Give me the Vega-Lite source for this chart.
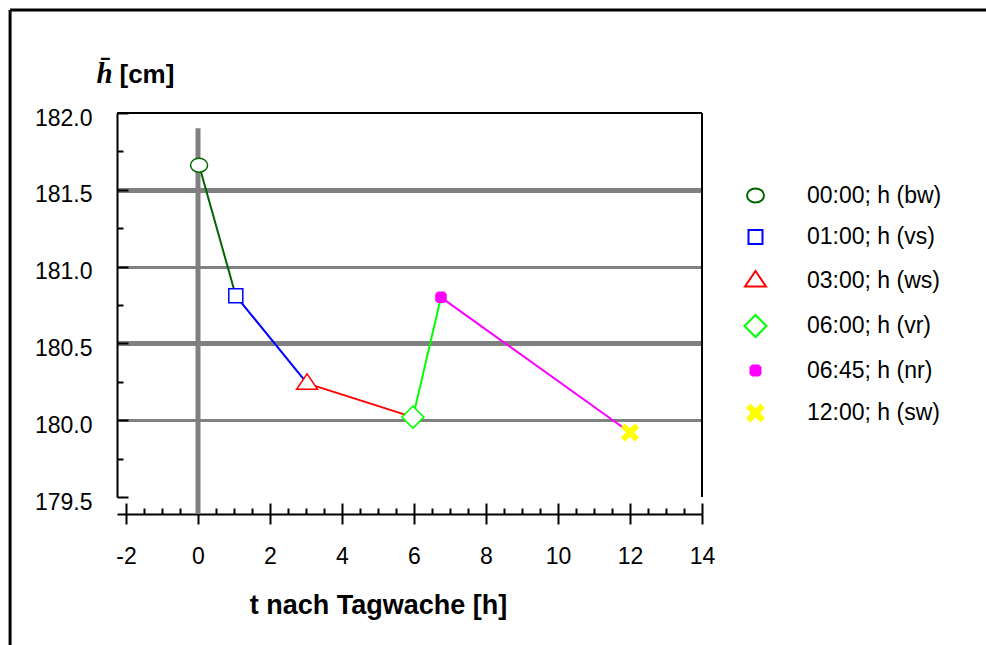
{
  "$schema": "https://vega.github.io/schema/vega-lite/v6.json",
  "width": 585,
  "height": 384,
  "autosize": {"type": "none"},
  "padding": {"left": 117, "top": 113, "right": 284, "bottom": 148},
  "background": "white",
  "config": {
    "view": {"stroke": null},
    "font": "Liberation Sans",
    "axis": {"labelFont": "Liberation Sans", "labelColor": "black", "domainColor": "black", "tickColor": "black", "titleColor": "black", "titleFont": "Liberation Sans"},
    "legend": {"labelFont": "Liberation Sans", "labelColor": "black"}
  },
  "datasets": {
    "pts": [
      {"series": "00:00; h (bw)", "t": 0.03, "h": 181.66},
      {"series": "01:00; h (vs)", "t": 1.05, "h": 180.81},
      {"series": "03:00; h (ws)", "t": 3.03, "h": 180.24},
      {"series": "06:00; h (vr)", "t": 5.97, "h": 180.02},
      {"series": "06:45; h (nr)", "t": 6.75, "h": 180.80},
      {"series": "12:00; h (sw)", "t": 12.0, "h": 179.92}
    ]
  },
  "resolve": {"axis": {"x": "independent", "y": "independent"}},
  "layer": [
    {
      "data": {"values": [{}]},
      "mark": {"type": "rule", "color": "#808080", "strokeWidth": 5, "clip": false},
      "encoding": {
        "x": {"datum": 0, "type": "quantitative", "scale": {"domain": [-2.25, 14], "nice": false, "zero": false},
          "axis": {"orient": "bottom", "offset": 17, "values": [-2, 0, 2, 4, 6, 8, 10, 12, 14], "labelExpr": "datum.value + ''", "tickSize": 10, "tickWidth": 2, "domainWidth": 2, "labelFontSize": 23, "labelPadding": 21, "labelFlush": false, "grid": false,
            "title": "t nach Tagwache [h]", "titleFontSize": 27, "titleFontWeight": "bold", "titleX": 261, "titleY": 99, "titleAlign": "center", "titleBaseline": "alphabetic"}},
        "y": {"datum": 181.9, "type": "quantitative", "scale": {"domain": [179.5, 182], "nice": false, "zero": false},
          "axis": {"orient": "left", "values": [179.5, 180, 180.5, 181, 181.5, 182], "format": ".1f", "ticks": false, "domainWidth": 2, "labelFontSize": 23, "labelPadding": 25, "labelOffset": 5, "labelFlush": false,
            "grid": true, "gridColor": "#808080",
            "gridWidth": {"condition": {"test": "datum.value == 181.5 || datum.value == 180.5", "value": 5}, "value": 3},
            "gridOpacity": {"condition": {"test": "datum.value == 182 || datum.value == 179.5", "value": 0}, "value": 1},
            "title": "h̄", "titleAngle": 0, "titleX": -21, "titleY": -31, "titleAlign": "left", "titleBaseline": "alphabetic", "titleFont": "Liberation Serif", "titleFontStyle": "italic", "titleFontWeight": "bold", "titleFontSize": 29}},
        "y2": {"datum": 179.39}
      }
    },
    {
      "data": {"values": [{}]},
      "mark": {"type": "rule", "color": "black", "strokeWidth": 2, "clip": false},
      "encoding": {"y": {"datum": 182, "type": "quantitative", "axis": null}}
    },
    {
      "data": {"values": [{}]},
      "mark": {"type": "rule", "color": "black", "strokeWidth": 2, "clip": false},
      "encoding": {"x": {"datum": 14, "type": "quantitative", "axis": null}}
    },
    {
      "data": {"name": "pts"},
      "transform": [
        {"window": [{"op": "lead", "field": "t", "as": "t2"}, {"op": "lead", "field": "h", "as": "h2"}], "sort": [{"field": "t"}]},
        {"filter": "datum.t2 != null"}
      ],
      "mark": {"type": "rule", "strokeWidth": 2, "clip": false},
      "encoding": {
        "x": {"field": "t", "type": "quantitative",
          "axis": {"orient": "bottom", "offset": 17, "values": [-2, -1.5, -1, -0.5, 0, 0.5, 1, 1.5, 2, 2.5, 3, 3.5, 4, 4.5, 5, 5.5, 6, 6.5, 7, 7.5, 8, 8.5, 9, 9.5, 10, 10.5, 11, 11.5, 12, 12.5, 13, 13.5, 14],
            "tickSize": {"condition": {"test": "datum.value % 2 == 0", "value": -11}, "value": -6}, "tickWidth": 2, "labels": false, "domain": false, "grid": false, "title": null}},
        "x2": {"field": "t2"},
        "y": {"field": "h", "type": "quantitative",
          "axis": {"orient": "left", "values": [179.5, 179.75, 180, 180.25, 180.5, 180.75, 181, 181.25, 181.5, 181.75, 182],
            "tickSize": {"condition": {"test": "abs(datum.value*2 - round(datum.value*2)) < 0.01", "value": -11}, "value": -6}, "tickWidth": 2, "labels": false, "domain": false, "grid": false,
            "title": "[cm]", "titleAngle": 0, "titleX": 2, "titleY": -31, "titleAlign": "left", "titleBaseline": "alphabetic", "titleFontWeight": "bold", "titleFontSize": 26}},
        "y2": {"field": "h2"},
        "stroke": {"field": "series", "type": "nominal"}
      }
    },
    {
      "data": {"name": "pts"},
      "mark": {"type": "point", "opacity": 1, "size": 400, "strokeWidth": 1.5, "clip": false},
      "encoding": {
        "x": {"field": "t", "type": "quantitative", "axis": null},
        "y": {"field": "h", "type": "quantitative", "axis": null},
        "stroke": {"field": "series", "type": "nominal",
          "scale": {"domain": ["00:00; h (bw)", "01:00; h (vs)", "03:00; h (ws)", "06:00; h (vr)", "06:45; h (nr)", "12:00; h (sw)"],
            "range": ["#006400", "#0000ff", "#ff0000", "#00ff00", "#ff00ff", "#ffff00"]},
          "legend": {"title": null, "orient": "none", "legendX": 627, "legendY": 71, "padding": 0, "symbolSize": 400, "symbolStrokeWidth": 2, "labelFontSize": 23, "labelOffset": 40, "rowPadding": 17.5}},
        "fill": {"field": "series", "type": "nominal",
          "scale": {"domain": ["00:00; h (bw)", "01:00; h (vs)", "03:00; h (ws)", "06:00; h (vr)", "06:45; h (nr)", "12:00; h (sw)"],
            "range": ["white", "white", "white", "white", "#ff00ff", "#ffff00"]},
          "legend": null},
        "shape": {"field": "series", "type": "nominal",
          "scale": {"domain": ["00:00; h (bw)", "01:00; h (vs)", "03:00; h (ws)", "06:00; h (vr)", "06:45; h (nr)", "12:00; h (sw)"],
            "range": ["M-0.85,0A0.85,0.7 0 1,0 0.85,0A0.85,0.7 0 1,0 -0.85,0Z", "M-0.7,-0.7H0.7V0.7H-0.7Z", "M0,-0.95L1.05,0.6H-1.05Z", "M0,-1.1L1.1,0L0,1.1L-1.1,0Z", "M-0.3,-0.5H0.3L0.5,-0.3V0.3L0.3,0.5H-0.3L-0.5,0.3V-0.3Z", "M-0.8,-0.5L-0.5,-0.8L0,-0.3L0.5,-0.8L0.8,-0.5L0.3,0L0.8,0.5L0.5,0.8L0,0.3L-0.5,0.8L-0.8,0.5L-0.3,0Z"]},
          "legend": null}
      }
    },
    {
      "data": {"values": [{}]},
      "mark": {"type": "rule", "color": "black", "strokeWidth": 3, "clip": false},
      "encoding": {"x": {"datum": -5.22, "type": "quantitative", "axis": null}, "x2": {"datum": 22}, "y": {"datum": 182.67, "type": "quantitative", "axis": null}}
    },
    {
      "data": {"values": [{}]},
      "mark": {"type": "rule", "color": "black", "strokeWidth": 3, "clip": false},
      "encoding": {"x": {"datum": -5.22, "type": "quantitative", "axis": null}, "y": {"datum": 182.67, "type": "quantitative", "axis": null}, "y2": {"datum": 178.4}}
    }
  ]
}
